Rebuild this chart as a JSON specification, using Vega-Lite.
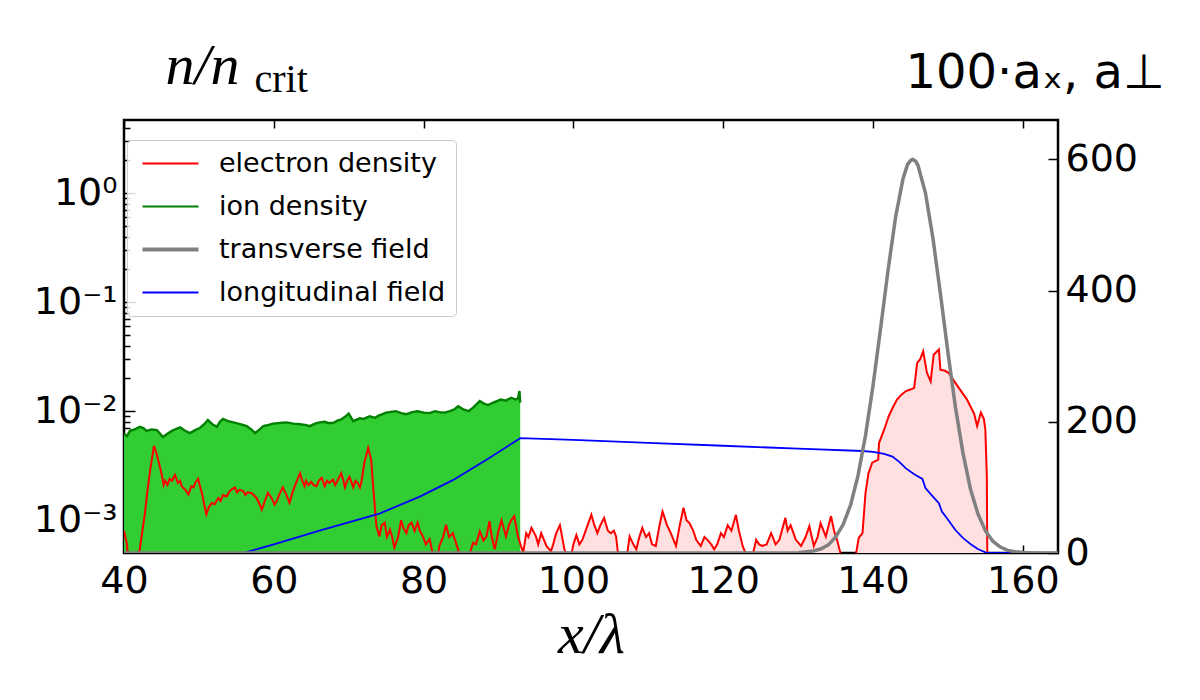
{
  "$schema": "https://vega.github.io/schema/vega-lite/v6.json",
  "width": 934,
  "height": 433,
  "autosize": "none",
  "padding": {"left": 124, "top": 120, "right": 142, "bottom": 147},
  "datasets": {
    "ion": [
      {"x": 40.0, "n": 0.0062}, {"x": 40.4, "n": 0.0059}, {"x": 40.8, "n": 0.0066}, {"x": 41.4, "n": 0.0068},
      {"x": 42.1, "n": 0.0072}, {"x": 42.6, "n": 0.0070}, {"x": 43.0, "n": 0.0066}, {"x": 43.7, "n": 0.0068},
      {"x": 44.4, "n": 0.0067}, {"x": 45.2, "n": 0.0058}, {"x": 45.8, "n": 0.0062}, {"x": 46.4, "n": 0.0066},
      {"x": 47.0, "n": 0.0069}, {"x": 47.5, "n": 0.0071}, {"x": 48.2, "n": 0.0066}, {"x": 48.8, "n": 0.0063},
      {"x": 49.5, "n": 0.0067}, {"x": 50.1, "n": 0.0070}, {"x": 50.7, "n": 0.0076}, {"x": 51.2, "n": 0.0083},
      {"x": 51.8, "n": 0.0076}, {"x": 52.4, "n": 0.0072}, {"x": 52.8, "n": 0.0080}, {"x": 53.2, "n": 0.0085},
      {"x": 53.9, "n": 0.0081}, {"x": 54.6, "n": 0.0079}, {"x": 55.5, "n": 0.0076}, {"x": 56.4, "n": 0.0073},
      {"x": 57.0, "n": 0.0068}, {"x": 57.5, "n": 0.0063}, {"x": 58.0, "n": 0.0067}, {"x": 58.6, "n": 0.0073},
      {"x": 59.3, "n": 0.0075}, {"x": 59.9, "n": 0.0077}, {"x": 60.8, "n": 0.0078}, {"x": 61.7, "n": 0.0079},
      {"x": 62.6, "n": 0.0077}, {"x": 63.5, "n": 0.0076}, {"x": 64.2, "n": 0.0075}, {"x": 64.8, "n": 0.0073},
      {"x": 65.5, "n": 0.0077}, {"x": 66.1, "n": 0.0079}, {"x": 66.8, "n": 0.0080}, {"x": 67.2, "n": 0.0078},
      {"x": 67.9, "n": 0.0078}, {"x": 68.5, "n": 0.0082}, {"x": 69.0, "n": 0.0084}, {"x": 69.7, "n": 0.0091},
      {"x": 70.0, "n": 0.0095}, {"x": 70.6, "n": 0.0081}, {"x": 71.5, "n": 0.0086}, {"x": 72.0, "n": 0.0085},
      {"x": 72.8, "n": 0.0090}, {"x": 73.5, "n": 0.0087}, {"x": 74.0, "n": 0.0091}, {"x": 75.0, "n": 0.0097},
      {"x": 76.3, "n": 0.0100}, {"x": 77.0, "n": 0.0096}, {"x": 77.7, "n": 0.0094}, {"x": 78.5, "n": 0.0098},
      {"x": 79.2, "n": 0.0100}, {"x": 80.0, "n": 0.0097}, {"x": 80.8, "n": 0.0096}, {"x": 81.5, "n": 0.0100},
      {"x": 82.1, "n": 0.0098}, {"x": 82.8, "n": 0.0097}, {"x": 83.5, "n": 0.0100}, {"x": 84.1, "n": 0.0104},
      {"x": 84.6, "n": 0.0111}, {"x": 85.3, "n": 0.0104}, {"x": 86.0, "n": 0.0100}, {"x": 86.6, "n": 0.0108},
      {"x": 87.5, "n": 0.0124}, {"x": 88.0, "n": 0.0118}, {"x": 88.6, "n": 0.0114}, {"x": 89.3, "n": 0.0120},
      {"x": 90.3, "n": 0.0128}, {"x": 91.0, "n": 0.0125}, {"x": 91.7, "n": 0.0133}, {"x": 92.3, "n": 0.0128},
      {"x": 92.6, "n": 0.0131}, {"x": 92.8, "n": 0.0153}, {"x": 92.9, "n": 0.0120}
    ],
    "electron": [
      {"x": 40.0, "n": 0.0008}, {"x": 40.4, "n": 0.0006}, {"x": 40.7, "n": 0.0003}, {"x": 41.5, "n": 0.0003},
      {"x": 42.1, "n": 0.00054}, {"x": 42.8, "n": 0.00117}, {"x": 43.1, "n": 0.0018}, {"x": 43.5, "n": 0.0029},
      {"x": 44.0, "n": 0.0048}, {"x": 44.3, "n": 0.0042}, {"x": 44.6, "n": 0.0035}, {"x": 45.0, "n": 0.0027},
      {"x": 45.3, "n": 0.0021}, {"x": 45.5, "n": 0.0023}, {"x": 45.8, "n": 0.0021}, {"x": 46.1, "n": 0.0024},
      {"x": 46.4, "n": 0.0023}, {"x": 46.8, "n": 0.0026}, {"x": 47.2, "n": 0.0022}, {"x": 47.5, "n": 0.0023},
      {"x": 47.7, "n": 0.00205}, {"x": 48.2, "n": 0.0019}, {"x": 48.6, "n": 0.00172}, {"x": 49.0, "n": 0.00205},
      {"x": 49.3, "n": 0.0020}, {"x": 49.5, "n": 0.0022}, {"x": 49.9, "n": 0.0024}, {"x": 50.1, "n": 0.0021},
      {"x": 50.4, "n": 0.00178}, {"x": 50.7, "n": 0.0014}, {"x": 51.0, "n": 0.00113}, {"x": 51.3, "n": 0.0013},
      {"x": 51.7, "n": 0.00144}, {"x": 52.1, "n": 0.0014}, {"x": 52.6, "n": 0.0016}, {"x": 52.9, "n": 0.0015},
      {"x": 53.2, "n": 0.0017}, {"x": 53.7, "n": 0.00165}, {"x": 54.0, "n": 0.0018}, {"x": 54.3, "n": 0.0019},
      {"x": 54.8, "n": 0.0020}, {"x": 55.1, "n": 0.0018}, {"x": 55.4, "n": 0.0019}, {"x": 55.9, "n": 0.00185},
      {"x": 56.2, "n": 0.0017}, {"x": 56.5, "n": 0.0018}, {"x": 57.0, "n": 0.00178}, {"x": 57.3, "n": 0.0017},
      {"x": 57.7, "n": 0.0016}, {"x": 58.1, "n": 0.0014}, {"x": 58.4, "n": 0.00125}, {"x": 58.8, "n": 0.0015},
      {"x": 59.2, "n": 0.00178}, {"x": 59.7, "n": 0.0016}, {"x": 60.1, "n": 0.00139}, {"x": 60.4, "n": 0.0015},
      {"x": 60.7, "n": 0.0017}, {"x": 61.2, "n": 0.0020}, {"x": 61.7, "n": 0.0017}, {"x": 62.1, "n": 0.00144},
      {"x": 62.5, "n": 0.0018}, {"x": 62.8, "n": 0.00205}, {"x": 63.2, "n": 0.0024}, {"x": 63.5, "n": 0.0027},
      {"x": 63.8, "n": 0.0023}, {"x": 64.1, "n": 0.00205}, {"x": 64.3, "n": 0.0023}, {"x": 64.6, "n": 0.0021},
      {"x": 65.0, "n": 0.00225}, {"x": 65.3, "n": 0.0021}, {"x": 65.7, "n": 0.00205}, {"x": 66.0, "n": 0.0023},
      {"x": 66.4, "n": 0.00245}, {"x": 66.8, "n": 0.00205}, {"x": 67.1, "n": 0.0023}, {"x": 67.4, "n": 0.0022},
      {"x": 67.9, "n": 0.00235}, {"x": 68.2, "n": 0.0021}, {"x": 68.5, "n": 0.0023}, {"x": 69.0, "n": 0.0027},
      {"x": 69.3, "n": 0.0023}, {"x": 69.5, "n": 0.0020}, {"x": 69.8, "n": 0.0023}, {"x": 70.1, "n": 0.0025},
      {"x": 70.4, "n": 0.0022}, {"x": 70.6, "n": 0.0020}, {"x": 70.9, "n": 0.0023}, {"x": 71.2, "n": 0.0022},
      {"x": 71.5, "n": 0.0020}, {"x": 71.7, "n": 0.00225}, {"x": 72.1, "n": 0.0034}, {"x": 72.6, "n": 0.0046},
      {"x": 73.0, "n": 0.0036}, {"x": 73.3, "n": 0.0019}, {"x": 73.7, "n": 0.00088}, {"x": 74.1, "n": 0.00071},
      {"x": 74.4, "n": 0.0009}, {"x": 74.8, "n": 0.00095}, {"x": 75.1, "n": 0.0007}, {"x": 75.5, "n": 0.00082},
      {"x": 75.8, "n": 0.0007}, {"x": 76.1, "n": 0.00056}, {"x": 76.6, "n": 0.0007}, {"x": 77.0, "n": 0.0010},
      {"x": 77.3, "n": 0.00085}, {"x": 77.7, "n": 0.00076}, {"x": 78.0, "n": 0.0009}, {"x": 78.4, "n": 0.00095},
      {"x": 78.8, "n": 0.0008}, {"x": 79.2, "n": 0.00095}, {"x": 79.5, "n": 0.0008}, {"x": 79.9, "n": 0.00071},
      {"x": 80.3, "n": 0.0006}, {"x": 80.8, "n": 0.00067}, {"x": 81.2, "n": 0.0005}, {"x": 81.5, "n": 0.0003},
      {"x": 82.1, "n": 0.00058}, {"x": 82.6, "n": 0.0007}, {"x": 83.0, "n": 0.00091}, {"x": 83.4, "n": 0.0007},
      {"x": 83.9, "n": 0.00076}, {"x": 84.6, "n": 0.00054}, {"x": 85.2, "n": 0.0004}, {"x": 85.7, "n": 0.0003},
      {"x": 86.2, "n": 0.0005}, {"x": 86.6, "n": 0.00062}, {"x": 87.0, "n": 0.0006}, {"x": 87.5, "n": 0.00079},
      {"x": 88.0, "n": 0.00065}, {"x": 88.4, "n": 0.00071}, {"x": 88.8, "n": 0.00098}, {"x": 89.1, "n": 0.0007},
      {"x": 89.5, "n": 0.00054}, {"x": 90.0, "n": 0.0008}, {"x": 90.4, "n": 0.0010}, {"x": 91.0, "n": 0.00071},
      {"x": 91.4, "n": 0.0009}, {"x": 91.7, "n": 0.0010}, {"x": 92.1, "n": 0.00109}, {"x": 92.6, "n": 0.00071},
      {"x": 93.0, "n": 0.00058}, {"x": 93.3, "n": 0.0005}, {"x": 93.7, "n": 0.00076}, {"x": 94.0, "n": 0.0007},
      {"x": 94.4, "n": 0.00085}, {"x": 95.0, "n": 0.00071}, {"x": 95.3, "n": 0.0006}, {"x": 95.7, "n": 0.00076},
      {"x": 96.4, "n": 0.00058}, {"x": 97.0, "n": 0.00052}, {"x": 97.3, "n": 0.0006}, {"x": 97.7, "n": 0.00076},
      {"x": 98.2, "n": 0.0009}, {"x": 98.5, "n": 0.0007}, {"x": 98.8, "n": 0.00054}, {"x": 99.5, "n": 0.0004},
      {"x": 100.0, "n": 0.0006}, {"x": 100.4, "n": 0.00073}, {"x": 100.8, "n": 0.0006}, {"x": 101.2, "n": 0.00066},
      {"x": 101.9, "n": 0.0009}, {"x": 102.4, "n": 0.00112}, {"x": 102.8, "n": 0.0009}, {"x": 103.2, "n": 0.00076},
      {"x": 103.6, "n": 0.0009}, {"x": 104.1, "n": 0.00105}, {"x": 104.6, "n": 0.0008}, {"x": 105.0, "n": 0.00076},
      {"x": 105.4, "n": 0.0008}, {"x": 105.7, "n": 0.00071}, {"x": 106.1, "n": 0.0004}, {"x": 107.0, "n": 0.0004},
      {"x": 107.5, "n": 0.00071}, {"x": 108.0, "n": 0.0006}, {"x": 108.4, "n": 0.00054}, {"x": 108.8, "n": 0.0007},
      {"x": 109.2, "n": 0.00085}, {"x": 109.7, "n": 0.0007}, {"x": 110.1, "n": 0.00076}, {"x": 110.5, "n": 0.0006},
      {"x": 111.0, "n": 0.00058}, {"x": 111.5, "n": 0.0009}, {"x": 111.9, "n": 0.0012}, {"x": 112.5, "n": 0.0009},
      {"x": 113.0, "n": 0.00076}, {"x": 113.7, "n": 0.00058}, {"x": 114.2, "n": 0.0009}, {"x": 114.7, "n": 0.0013},
      {"x": 115.1, "n": 0.001}, {"x": 115.5, "n": 0.00094}, {"x": 116.0, "n": 0.0008}, {"x": 116.4, "n": 0.00066},
      {"x": 117.0, "n": 0.00058}, {"x": 117.5, "n": 0.0007}, {"x": 117.9, "n": 0.00066}, {"x": 118.4, "n": 0.0006},
      {"x": 118.8, "n": 0.00054}, {"x": 119.2, "n": 0.0006}, {"x": 119.7, "n": 0.00076}, {"x": 120.1, "n": 0.0007},
      {"x": 120.6, "n": 0.0009}, {"x": 121.1, "n": 0.0008}, {"x": 121.7, "n": 0.00112}, {"x": 122.1, "n": 0.0008},
      {"x": 122.6, "n": 0.00058}, {"x": 123.5, "n": 0.0004}, {"x": 124.0, "n": 0.0005}, {"x": 124.4, "n": 0.00066},
      {"x": 124.8, "n": 0.0006}, {"x": 125.2, "n": 0.00058}, {"x": 125.8, "n": 0.0006}, {"x": 126.4, "n": 0.00076},
      {"x": 127.0, "n": 0.0006}, {"x": 127.5, "n": 0.00066}, {"x": 128.3, "n": 0.00105}, {"x": 128.6, "n": 0.0008},
      {"x": 129.0, "n": 0.0009}, {"x": 129.7, "n": 0.00066}, {"x": 130.4, "n": 0.00058}, {"x": 131.0, "n": 0.0007},
      {"x": 131.5, "n": 0.00088}, {"x": 132.1, "n": 0.00058}, {"x": 132.6, "n": 0.0007}, {"x": 133.0, "n": 0.00094},
      {"x": 133.7, "n": 0.00071}, {"x": 134.4, "n": 0.00109}, {"x": 134.8, "n": 0.0008}, {"x": 135.2, "n": 0.00066},
      {"x": 136.0, "n": 0.0004}, {"x": 136.4, "n": 0.0003}, {"x": 137.2, "n": 0.0003}, {"x": 138.1, "n": 0.00069},
      {"x": 138.6, "n": 0.00076}, {"x": 139.0, "n": 0.00178}, {"x": 139.4, "n": 0.0027}, {"x": 139.9, "n": 0.00337},
      {"x": 140.7, "n": 0.0036}, {"x": 140.8, "n": 0.0051}, {"x": 141.5, "n": 0.0068}, {"x": 142.1, "n": 0.009},
      {"x": 142.7, "n": 0.011}, {"x": 143.2, "n": 0.0128}, {"x": 143.8, "n": 0.0142}, {"x": 144.4, "n": 0.0153},
      {"x": 145.0, "n": 0.0158}, {"x": 145.5, "n": 0.0164}, {"x": 145.9, "n": 0.0278}, {"x": 146.3, "n": 0.030},
      {"x": 146.7, "n": 0.0355}, {"x": 147.2, "n": 0.0225}, {"x": 147.7, "n": 0.0188}, {"x": 148.1, "n": 0.033},
      {"x": 148.8, "n": 0.0368}, {"x": 149.0, "n": 0.024}, {"x": 149.6, "n": 0.0235}, {"x": 150.1, "n": 0.0225},
      {"x": 150.6, "n": 0.020}, {"x": 151.0, "n": 0.0182}, {"x": 151.9, "n": 0.0148}, {"x": 152.5, "n": 0.013},
      {"x": 153.0, "n": 0.0111}, {"x": 153.5, "n": 0.0095}, {"x": 153.9, "n": 0.0073}, {"x": 154.4, "n": 0.0097},
      {"x": 154.8, "n": 0.0085}, {"x": 155.0, "n": 0.0068}, {"x": 155.2, "n": 0.0025}, {"x": 155.4, "n": 0.00001},
      {"x": 164.7, "n": 0.00001}
    ],
    "transverse": [
      {"x": 40, "a": 0}, {"x": 128, "a": 0}, {"x": 130, "a": 0.5}, {"x": 132, "a": 3}, {"x": 133, "a": 6},
      {"x": 134, "a": 12}, {"x": 135, "a": 24}, {"x": 136, "a": 43}, {"x": 137, "a": 73}, {"x": 138, "a": 118},
      {"x": 139, "a": 179}, {"x": 140, "a": 255}, {"x": 141, "a": 341}, {"x": 142, "a": 430}, {"x": 143, "a": 511},
      {"x": 144, "a": 570}, {"x": 144.6, "a": 592}, {"x": 145, "a": 598}, {"x": 145.3, "a": 600}, {"x": 145.7, "a": 597},
      {"x": 146, "a": 591}, {"x": 147, "a": 549}, {"x": 148, "a": 480}, {"x": 149, "a": 395}, {"x": 150, "a": 306},
      {"x": 151, "a": 223}, {"x": 152, "a": 153}, {"x": 153, "a": 98}, {"x": 154, "a": 60}, {"x": 155, "a": 34},
      {"x": 156, "a": 18}, {"x": 157, "a": 9}, {"x": 158, "a": 4}, {"x": 159, "a": 2}, {"x": 160, "a": 0.8},
      {"x": 162, "a": 0}, {"x": 164.7, "a": 0}
    ],
    "longitudinal": [
      {"x": 40, "a": 0}, {"x": 55.9, "a": 0}, {"x": 60, "a": 13}, {"x": 66.1, "a": 34}, {"x": 74.1, "a": 60},
      {"x": 79.5, "a": 86}, {"x": 83.9, "a": 111}, {"x": 88.4, "a": 142}, {"x": 92.9, "a": 175}, {"x": 100, "a": 172.5},
      {"x": 110, "a": 168}, {"x": 120, "a": 163.5}, {"x": 130, "a": 159}, {"x": 138.6, "a": 155.5}, {"x": 140, "a": 154},
      {"x": 141.5, "a": 151}, {"x": 142.6, "a": 147}, {"x": 143.5, "a": 139}, {"x": 144.4, "a": 129}, {"x": 145.5, "a": 120},
      {"x": 146.6, "a": 113}, {"x": 147.0, "a": 99}, {"x": 148.0, "a": 86}, {"x": 148.8, "a": 76}, {"x": 149.2, "a": 63},
      {"x": 150.0, "a": 51}, {"x": 151.0, "a": 35}, {"x": 152.0, "a": 23}, {"x": 153.2, "a": 12}, {"x": 154.0, "a": 6},
      {"x": 155.0, "a": 1}, {"x": 155.3, "a": 0}, {"x": 164.7, "a": 0}
    ]
  },
  "layer": [
    {
      "encoding": {
        "x": {
          "field": "x", "type": "quantitative",
          "scale": {"domain": [40, 164.7], "nice": false, "zero": false},
          "axis": {
            "orient": "bottom",
            "values": [40, 60, 80, 100, 120, 140, 160],
            "tickSize": -8,
            "labelPadding": 17,
            "labelFlush": false,
            "title": "x/λ",
            "titleFont": "Liberation Serif",
            "titleFontStyle": "italic",
            "titleFontWeight": "normal",
            "titleFontSize": 58,
            "titlePadding": 6
          }
        },
        "y": {
          "field": "n", "type": "quantitative",
          "scale": {"type": "log", "domain": [0.0005, 4.7], "nice": false},
          "axis": {
            "orient": "left",
            "values": [0.0006, 0.0007, 0.0008, 0.0009, 0.001, 0.002, 0.003, 0.004, 0.005, 0.006, 0.007, 0.008, 0.009,
                       0.01, 0.02, 0.03, 0.04, 0.05, 0.06, 0.07, 0.08, 0.09, 0.1, 0.2, 0.3, 0.4, 0.5, 0.6, 0.7, 0.8, 0.9,
                       1, 2, 3, 4],
            "labelExpr": "datum.value == 1 ? '10⁰' : datum.value == 0.1 ? '10⁻¹' : datum.value == 0.01 ? '10⁻²' : datum.value == 0.001 ? '10⁻³' : ''",
            "labelOverlap": false,
            "labelFontSize": 38,
            "tickSize": {"condition": {"test": "datum.value == 1 || datum.value == 0.1 || datum.value == 0.01 || datum.value == 0.001", "value": -11}, "value": -6},
            "labelPadding": 18,
            "title": "n/n",
            "titleAngle": 0,
            "titleAlign": "left",
            "titleBaseline": "alphabetic",
            "titleX": 41,
            "titleY": -37,
            "titleFont": "Liberation Serif",
            "titleFontStyle": "italic",
            "titleFontWeight": "normal",
            "titleFontSize": 58
          }
        }
      },
      "layer": [
        {
          "data": {"name": "electron"},
          "mark": {"type": "area", "color": "#ffe0e0", "clip": true},
          "encoding": {"y2": {"datum": 0.0005}}
        },
        {
          "data": {"name": "ion"},
          "mark": {"type": "area", "color": "#32cd32", "clip": true},
          "encoding": {"y2": {"datum": 0.0005}}
        },
        {
          "data": {"name": "electron"},
          "mark": {"type": "line", "strokeWidth": 2, "clip": true},
          "encoding": {
            "color": {
              "datum": "electron density", "type": "nominal",
              "scale": {
                "domain": ["electron density", "ion density", "transverse field", "longitudinal field"],
                "range": ["#ff0000", "#008000", "#808080", "#0000ff"]
              },
              "legend": {
                "orient": "none",
                "legendX": 3,
                "legendY": 20,
                "title": null,
                "symbolType": "stroke",
                "symbolSize": 3136,
                "symbolStrokeWidth": 2,
                "symbolOffset": 20,
                "labelFontSize": 27,
                "labelFont": "DejaVu Sans",
                "labelColor": "black",
                "labelLimit": 500,
                "labelOffset": 35,
                "rowPadding": 15,
                "padding": 10,
                "fillColor": "rgba(255,255,255,0.85)",
                "strokeColor": "#cccccc",
                "cornerRadius": 4,
                "encode": {"symbols": {"update": {"strokeWidth": {"signal": "datum.value === 'transverse field' ? 4 : 2"}}}}
              }
            }
          }
        },
        {
          "data": {"name": "ion"},
          "mark": {"type": "line", "strokeWidth": 2.4, "clip": true},
          "encoding": {"color": {"datum": "ion density", "type": "nominal"}}
        }
      ]
    },
    {
      "encoding": {
        "x": {
          "field": "x", "type": "quantitative",
          "scale": {"domain": [40, 164.7], "nice": false, "zero": false},
          "axis": {
            "orient": "top",
            "values": [40, 60, 80, 100, 120, 140, 160],
            "tickSize": -8,
            "labels": false,
            "title": "crit",
            "titleAlign": "left",
            "titleBaseline": "alphabetic",
            "titleX": 130,
            "titleY": -29,
            "titleFont": "Liberation Serif",
            "titleFontWeight": "normal",
            "titleFontSize": 40
          }
        },
        "y": {
          "field": "a", "type": "quantitative",
          "scale": {"domain": [0, 660], "nice": false},
          "axis": {
            "orient": "right",
            "values": [0, 200, 400, 600],
            "tickSize": -10,
            "labelPadding": 17,
            "title": "100·aₓ, a⊥",
            "titleAngle": 0,
            "titleAlign": "left",
            "titleBaseline": "alphabetic",
            "titleX": -153,
            "titleY": -33,
            "titleFont": "DejaVu Sans",
            "titleFontWeight": "normal",
            "titleFontSize": 48
          }
        }
      },
      "layer": [
        {
          "data": {"name": "longitudinal"},
          "mark": {"type": "line", "strokeWidth": 1.8, "clip": true},
          "encoding": {"color": {"datum": "longitudinal field", "type": "nominal"}}
        },
        {
          "data": {"name": "transverse"},
          "mark": {"type": "line", "strokeWidth": 3.5, "clip": true},
          "encoding": {"color": {"datum": "transverse field", "type": "nominal"}}
        }
      ]
    }
  ],
  "resolve": {"scale": {"y": "independent"}, "axis": {"x": "independent"}},
  "config": {
    "font": "DejaVu Sans",
    "view": {"stroke": "black", "strokeWidth": 2.5},
    "axis": {
      "domain": false,
      "grid": false,
      "tickColor": "black",
      "tickWidth": 1.5,
      "labelColor": "black",
      "labelFont": "DejaVu Sans",
      "labelFontSize": 38,
      "titleColor": "black"
    }
  }
}
